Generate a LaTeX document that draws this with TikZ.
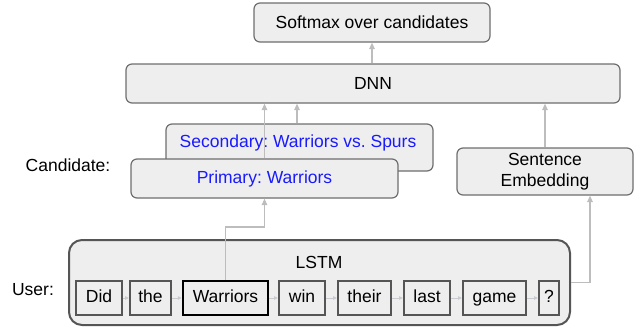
\documentclass[tikz,border=0pt]{standalone}
\usepackage{fontspec}
\setmainfont{Liberation Sans}
\usetikzlibrary{arrows.meta,calc}
\definecolor{boxfill}{HTML}{EEEEEE}
\definecolor{boxline}{HTML}{6E6E6E}
\definecolor{wordline}{HTML}{555555}
\definecolor{arrowcol}{HTML}{BDBDBD}
\definecolor{wordarrow}{HTML}{C8CCD0}
\definecolor{candblue}{HTML}{1A1AFF}
\frenchspacing
\begin{document}
\frenchspacing
\begin{tikzpicture}[x=1pt,y=-1pt,
  font=\fontsize{17.5}{21}\selectfont,
  box/.style={draw=boxline, line width=1.2pt, fill=boxfill, rounded corners=6pt, inner sep=0pt},
  lstmbox/.style={draw=wordline, line width=2pt, fill=boxfill, rounded corners=13pt, inner sep=0pt},
  wordbox/.style={draw=wordline, line width=2pt, fill=boxfill, inner sep=0pt, minimum height=34pt, text height=12.6pt, text depth=3.6pt},
  keyword/.style={wordbox, draw=black, line width=2.4pt},
  arr/.style={draw=arrowcol, line width=1.2pt, -{Triangle[length=6.5pt,width=5.5pt]}},
  warr/.style={draw=wordarrow, line width=1pt, -{Triangle[length=4pt,width=3.5pt]}},
  lbl/.style={inner sep=0pt}
]
\useasboundingbox (0,0) rectangle (639,327);

% top boxes
\node[box, minimum width=236pt, minimum height=39pt] (softmax) at (372,22.5) {Softmax over candidates};
\node[box, minimum width=494pt, minimum height=39pt] (dnn) at (373,83.5) {DNN};

% candidates
\node[box, minimum width=267pt, minimum height=47pt] (secondary) at (299.5,147.5) {};
\node[lbl, text=candblue] (sectext) at (298,143) {Secondary: Warriors vs. Spurs};
\node[box, minimum width=267pt, minimum height=39pt, text=candblue] (primary) at (264.5,178.5) {Primary: Warriors};

% sentence embedding
\node[box, minimum width=176pt, minimum height=47pt, align=center] (se) at (545,171.5) {Sentence\\Embedding};

% labels
\node[lbl] (candlabel) at (68,165) {Candidate:};
\node[lbl] (userlabel) at (33,290) {User:};

% LSTM
\node[lstmbox, minimum width=501pt, minimum height=85pt] (lstm) at (319.5,282.5) {};
\node[lbl] (lstmtext) at (319,262) {LSTM};

% words
\node[wordbox, minimum width=46pt] (w1) at (99,298) {Did};
\node[wordbox, minimum width=41pt] (w2) at (150.5,298) {the};
\node[keyword, minimum width=85pt] (w3) at (225.5,298) {Warriors};
\node[wordbox, minimum width=46pt] (w4) at (302,298) {win};
\node[wordbox, minimum width=53pt] (w5) at (364.5,298) {their};
\node[wordbox, minimum width=46pt] (w6) at (427,298) {last};
\node[wordbox, minimum width=63pt] (w7) at (494.5,298) {game};
\node[wordbox, minimum width=20pt] (w8) at (549,298) {?};

\foreach \a/\b in {w1/w2,w2/w3,w3/w4,w4/w5,w5/w6,w6/w7,w7/w8}
  \draw[warr] (\a.east) -- (\b.west);

% connectors
\draw[arr] (dnn.north -| softmax.south) -- (softmax.south);
\draw[arr] (primary.north) -- (primary.north |- dnn.south);
\draw[arr] ([xshift=-2.5pt]secondary.north) -- ([xshift=-2.5pt]secondary.north |- dnn.south);
\draw[arr] (se.north) -- (se.north |- dnn.south);
\coordinate (wbend) at (264.5,227);
\draw[arr] (w3.north) |- (wbend) -- (primary.south);
\draw[arr] (lstm.east) -| ([xshift=45pt]se.south);
\end{tikzpicture}
\end{document}
